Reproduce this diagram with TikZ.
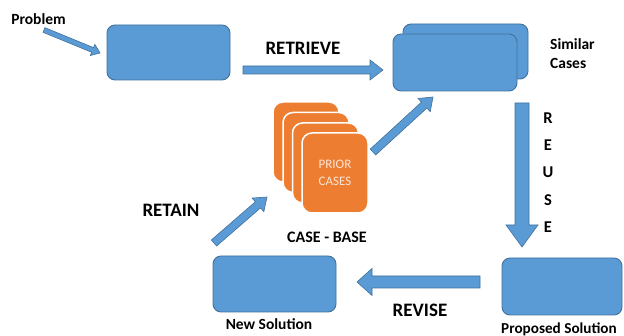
\documentclass[tikz,border=0pt]{standalone}
\usepackage{fontspec}
\setmainfont{Carlito}
\usetikzlibrary{calc}
\definecolor{bfill}{HTML}{5B9BD5}
\definecolor{bdraw}{HTML}{41719C}
\definecolor{ofill}{HTML}{ED7D31}
\tikzset{
  bbox/.style={draw=bdraw, fill=bfill, line width=0.9pt, rounded corners=8pt, inner sep=0pt},
  card/.style={draw=white, fill=ofill, line width=1.5pt, rounded corners=10pt, inner sep=0pt,
    minimum width=66pt, minimum height=80pt},
  barrow/.style={draw=bdraw, fill=bfill, line width=0.6pt},
  big/.style={font=\fontsize{19}{21}\selectfont\bfseries, inner sep=0pt},
  mid/.style={font=\fontsize{15.5}{17}\selectfont\bfseries, inner sep=0pt},
  small/.style={font=\fontsize{13}{15}\selectfont, text=white!80!ofill, inner sep=0pt},
}
\newcommand\blockarrow[5]{%
  \coordinate (ba-c) at ($(#2)!#5!(#1)$);
  \filldraw[barrow] ($(#1)!#3!90:(#2)$) -- ($(ba-c)!#3!90:(#2)$) -- ($(ba-c)!#4!90:(#2)$)
    -- (#2) -- ($(ba-c)!#4!-90:(#2)$) -- ($(ba-c)!#3!-90:(#2)$) -- ($(#1)!#3!-90:(#2)$) -- cycle;
}
\begin{document}
\begin{tikzpicture}[x=1pt, y=-1pt]
\useasboundingbox[fill=white] (0,0) rectangle (624,336);
% boxes
\node[bbox, minimum width=123pt, minimum height=55pt] (prob) at (168.5,52.5) {};
\node[bbox, minimum width=125pt, minimum height=55pt] (simback) at (465.5,51.5) {};
\node[bbox, minimum width=124pt, minimum height=57pt] (sim) at (455,62.5) {};
\node[bbox, minimum width=120pt, minimum height=57pt] (prop) at (562,286.5) {};
\node[bbox, minimum width=123pt, minimum height=56pt] (newsol) at (274.5,284) {};
% cards
\node[card] (c1) at (306,142) {};
\node[card] (c2) at (316,152.5) {};
\node[card] (c3) at (325.5,163) {};
\node[card] (c4) at (335,173) {};
\node[small] (prior) at (335,164) {PRIOR};
\node[small] (cases) at (335,181) {CASES};
% labels
\node[mid] (tprob) at (38.5,19) {Problem};
\node[big] (tretr) at (303,48.5) {RETRIEVE};
\node[mid, anchor=west] (tsim) at (550,44) {Similar};
\node[mid, anchor=west] (tcases) at (550,63.5) {Cases};
\node[big, font=\fontsize{16.5}{18}\selectfont\bfseries] (r1) at (548,118) {R};
\node[big, font=\fontsize{16.5}{18}\selectfont\bfseries] (r2) at (548,145) {E};
\node[big, font=\fontsize{16.5}{18}\selectfont\bfseries] (r3) at (548,172) {U};
\node[big, font=\fontsize{16.5}{18}\selectfont\bfseries] (r4) at (548,200) {S};
\node[big, font=\fontsize{16.5}{18}\selectfont\bfseries] (r5) at (548,227) {E};
\node[mid, font=\fontsize{16}{18}\selectfont\bfseries] (tbase) at (327,237) {CASE - BASE};
\node[big] (tretain) at (171,210) {RETAIN};
\node[mid] (tnew) at (269,324) {New Solution};
\node[big] (trev) at (420,310) {REVISE};
\node[mid, font=\fontsize{15.2}{17}\selectfont\bfseries] (tprop) at (559,329) {Proposed Solution};
% arrow ends
\coordinate (a1t) at (44,30);   \coordinate (a1h) at (100,53);
\coordinate (a2t) at (243,70);  \coordinate (a2h) at (383,70);
\coordinate (a3t) at (373,152); \coordinate (a3h) at (433,97);
\coordinate (a4t) at (522,103); \coordinate (a4h) at (522,247);
\coordinate (a5t) at (480,282); \coordinate (a5h) at (357,282);
\coordinate (a6t) at (214,243); \coordinate (a6h) at (267,197);
\blockarrow{a1t}{a1h}{2.5pt}{6pt}{8pt}
\blockarrow{a2t}{a2h}{4pt}{10pt}{13pt}
\blockarrow{a3t}{a3h}{4pt}{9pt}{12pt}
\blockarrow{a4t}{a4h}{7pt}{16pt}{22pt}
\blockarrow{a5t}{a5h}{6pt}{13.5pt}{15pt}
\blockarrow{a6t}{a6h}{4pt}{9pt}{12pt}
\end{tikzpicture}
\end{document}
